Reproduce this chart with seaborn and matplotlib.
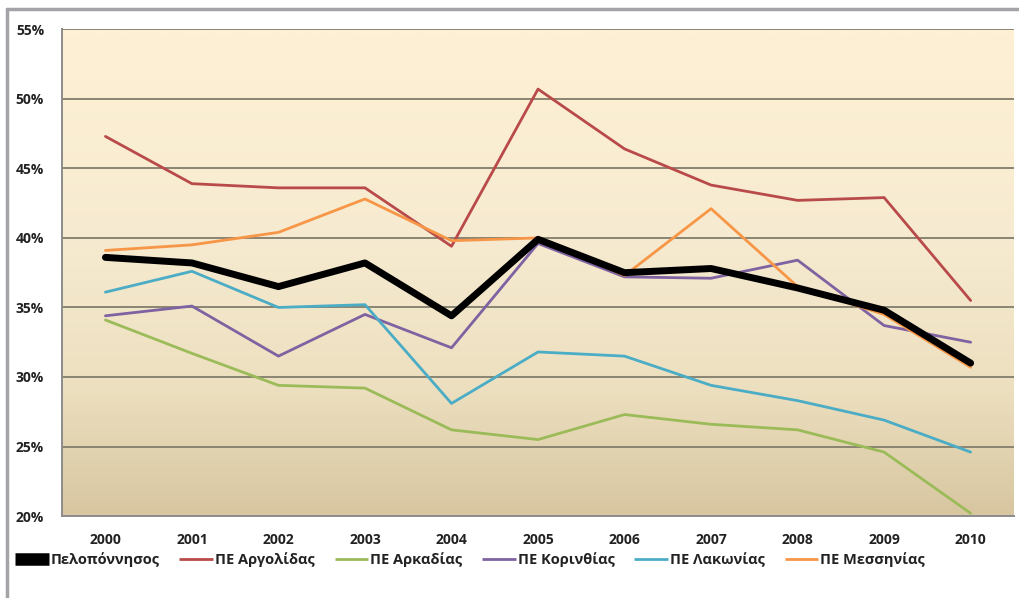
import numpy as np
import pandas as pd
import matplotlib.pyplot as plt
import seaborn as sns
from matplotlib.colors import LinearSegmentedColormap
from matplotlib.lines import Line2D

sns.set_style('white')
plt.rcParams['font.family'] = ['Open Sans', 'DejaVu Sans']

# Data (% values)
years = ['2000', '2001', '2002', '2003', '2004', '2005', '2006', '2007', '2008', '2009', '2010']
peloponnisos = [38.6, 38.2, 36.5, 38.2, 34.4, 39.9, 37.5, 37.8, 36.4, 34.8, 31.0]
argolidas = [47.3, 43.9, 43.6, 43.6, 39.4, 50.7, 46.4, 43.8, 42.7, 42.9, 35.5]
arkadias = [34.1, 31.7, 29.4, 29.2, 26.2, 25.5, 27.3, 26.6, 26.2, 24.6, 20.2]
korinthias = [34.4, 35.1, 31.5, 34.5, 32.1, 39.6, 37.2, 37.1, 38.4, 33.7, 32.5]
lakonias = [36.1, 37.6, 35.0, 35.2, 28.1, 31.8, 31.5, 29.4, 28.3, 26.9, 24.6]
messinias = [39.1, 39.5, 40.4, 42.8, 39.8, 40.0, 37.3, 42.1, 36.5, 34.5, 30.7]

series = {
    'Πελοπόννησος': peloponnisos,
    'ΠΕ Αργολίδας': argolidas,
    'ΠΕ Αρκαδίας': arkadias,
    'ΠΕ Κορινθίας': korinthias,
    'ΠΕ Λακωνίας': lakonias,
    'ΠΕ Μεσσηνίας': messinias,
}
colors = ['#000000', '#B94A4A', '#9BBB59', '#7E62A1', '#4BACC6', '#F79646']
widths = [5.0, 2.0, 2.0, 2.0, 2.0, 2.0]

rows = []
for name, vals in series.items():
    for i, v in enumerate(vals):
        rows.append({'x': i, 'value': v, 'region': name})
df = pd.DataFrame(rows)

fig = plt.figure(figsize=(10.19, 5.98), dpi=100)
ax = fig.add_axes([0.061, 0.137, 0.934, 0.814])

# gradient background, light at the top, tan at the bottom
cmap = LinearSegmentedColormap.from_list('bg', ['#FDF0D4', '#F6EAD0', '#EDE0C0', '#D7C6A0'])
grad = np.linspace(0, 1, 256).reshape(-1, 1) ** 1.3
ax.imshow(grad, extent=(-0.5, 10.5, 20, 55), aspect='auto', cmap=cmap, zorder=0)

for (name, vals), c, w in zip(series.items(), colors, widths):
    sns.lineplot(data=df[df['region'] == name], x='x', y='value', color=c,
                 linewidth=w, ax=ax, label=name, zorder=3 if name == 'Πελοπόννησος' else 2)

ax.set_xlim(-0.5, 10.5)
ax.set_ylim(20, 55)
ax.set_yticks(range(20, 56, 5))
ax.set_yticklabels([f'{v}%' for v in range(20, 56, 5)])
ax.set_xticks(range(len(years)))
ax.set_xticklabels(years)
ax.set_xticks(np.arange(-0.5, 11, 1), minor=True)
ax.tick_params(axis='x', which='major', length=0, pad=12)
ax.tick_params(axis='x', which='minor', length=5, color='#808080', width=1.2)
ax.tick_params(axis='y', length=5, color='#808080', width=1.2, pad=8)
for lab in ax.get_xticklabels() + ax.get_yticklabels():
    lab.set_fontsize(10)
    lab.set_fontweight('bold')
    lab.set_color('#222222')
ax.grid(axis='y', color='#8A8472', linewidth=1.4)
for g in ax.get_ygridlines():
    g.set_zorder(1)
ax.set_xlabel('')
ax.set_ylabel('')
for s in ['top', 'right']:
    ax.spines[s].set_visible(False)
for s in ['left', 'bottom']:
    ax.spines[s].set_color('#8C8C8C')
    ax.spines[s].set_linewidth(1.4)

handles, labels = ax.get_legend_handles_labels()
ax.legend(handles, labels, loc='center left', bbox_to_anchor=(0.009, 0.064),
          bbox_transform=fig.transFigure, ncol=6, frameon=False,
          prop={'weight': 'bold', 'size': 10.5}, handlelength=2.3,
          handletextpad=0.15, columnspacing=1.35, borderaxespad=0)
leg = ax.get_legend()
for t in leg.get_texts():
    t.set_color('#222222')
for h in leg.legend_handles:
    h.set_solid_capstyle('butt')
    if h.get_color() == '#000000':
        h.set_linewidth(9)

# outer frame
fig.add_artist(Line2D([0.007, 0.007], [0.0, 0.985], transform=fig.transFigure,
                      color='#A3A3A8', linewidth=2.5))
fig.add_artist(Line2D([0.007, 1.0], [0.985, 0.985], transform=fig.transFigure,
                      color='#A3A3A8', linewidth=2.5))

fig.savefig('out.png', dpi=100, facecolor='white')
